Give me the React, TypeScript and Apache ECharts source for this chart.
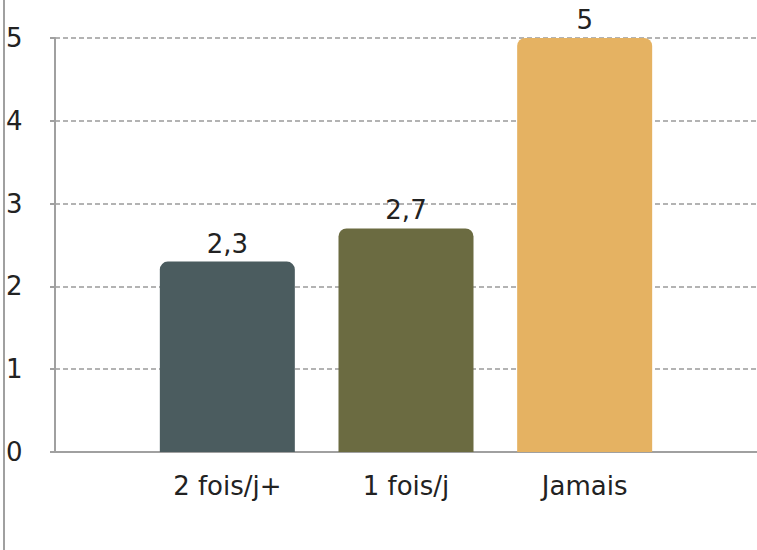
import React, { useEffect, useRef } from "react";
import * as echarts from "echarts";

const categories = ["2 fois/j+", "1 fois/j", "Jamais"];
const values = [2.3, 2.7, 5];
const barColors = ["#4b5c5f", "#6b6b41", "#e5b262"];
const yTicks = [0, 1, 2, 3, 4, 5];

const FONT = "DejaVu Sans";

export default function App() {
  const ref = useRef<HTMLDivElement>(null);
  useEffect(() => {
    if (!ref.current) return;
    const chart = echarts.init(ref.current, undefined, { renderer: "svg" });
    const yMin = yTicks[0];
    const yMax = yTicks[yTicks.length - 1];
    chart.setOption({
      animation: false,
      backgroundColor: "#ffffff",
      grid: [
        { left: 55, right: 0, top: 38, bottom: 98 },
        { left: 138, right: 83, top: 38, bottom: 98 },
      ],
      xAxis: [
        {
          gridIndex: 0,
          type: "value",
          min: 0,
          max: 1,
          axisLine: { show: true, lineStyle: { color: "#a0a0a0", width: 2 } },
          axisTick: { show: false },
          axisLabel: { show: false },
          splitLine: { show: false },
        },
        {
          gridIndex: 1,
          type: "category",
          data: categories,
          axisLine: { show: false },
          axisTick: { show: false },
          axisLabel: {
            margin: 21,
            color: "#222222",
            fontFamily: FONT,
            fontSize: 26,
          },
        },
      ],
      yAxis: [
        {
          gridIndex: 0,
          type: "value",
          min: yMin,
          max: yMax,
          interval: 1,
          axisLine: { show: true, lineStyle: { color: "#a0a0a0", width: 2 } },
          axisTick: { show: true, length: 5, lineStyle: { color: "#a0a0a0", width: 2 } },
          axisLabel: {
            align: "left",
            margin: 49,
            color: "#222222",
            fontFamily: FONT,
            fontSize: 26,
          },
          splitLine: {
            show: true,
            lineStyle: { color: "#9a9a9a", width: 1.5, type: [5, 3] },
          },
        },
        {
          gridIndex: 1,
          type: "value",
          min: yMin,
          max: yMax,
          show: false,
          splitLine: { show: false },
        },
      ],
      graphic: [
        {
          type: "line",
          shape: { x1: 4, y1: 0, x2: 4, y2: 550 },
          style: { stroke: "#a0a0a0", lineWidth: 2 },
          silent: true,
        },
      ],
      series: [
        {
          type: "bar",
          xAxisIndex: 1,
          yAxisIndex: 1,
          barWidth: 135,
          data: values.map((v, i) => ({
            value: v,
            itemStyle: { color: barColors[i], borderRadius: [8, 8, 0, 0] },
          })),
          label: {
            show: true,
            position: "top",
            distance: 5,
            color: "#222222",
            fontFamily: FONT,
            fontSize: 26,
            formatter: (p: any) => String(p.value).replace(".", ","),
          },
        },
      ],
    });
    return () => chart.dispose();
  }, []);
  return (
    <div
      ref={ref}
      style={{ position: "fixed", left: 0, top: 0, width: 757, height: 550 }}
    />
  );
}
